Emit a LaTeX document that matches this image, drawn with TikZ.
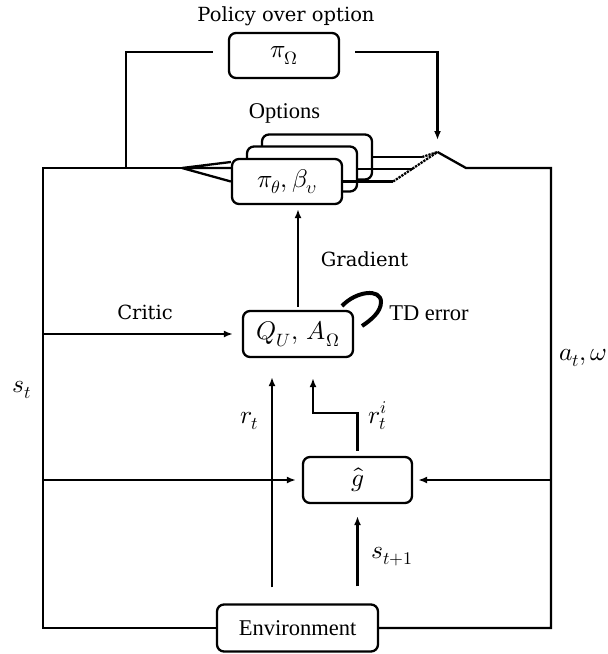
\documentclass[tikz,border=0pt]{standalone}
\usepackage{fontspec}
\usepackage{unicode-math}
\setmainfont{Liberation Serif}
\newfontfamily\cambria{DejaVu Serif}
\usetikzlibrary{arrows.meta,calc}
\begin{document}
\begin{tikzpicture}[x=1pt,y=-1pt,
  ln/.style={line width=2.3pt},
  arr/.style={ln,-{Latex[length=9pt,width=7pt]}},
  box/.style={draw,ln,rounded corners=7pt,fill=white,minimum width=110pt,minimum height=45pt,inner sep=0pt,font=\fontsize{25.5}{28}\selectfont},
  lbl/.style={font=\fontsize{22.5}{26}\selectfont,anchor=base,inner sep=0pt},
  clbl/.style={font=\cambria\fontsize{19.5}{24}\selectfont,anchor=base,inner sep=0pt},
  mlbl/.style={font=\fontsize{25.5}{28}\selectfont,inner sep=0pt}]
\useasboundingbox (0,0) rectangle (608,654);

% boxes
\node[box] (pol) at (284,55.5) {$\pi_\Omega$};
\node[box] (o3) at (317,157) {};
\node[box] (o2) at (302,169) {};
\node[box] (o1) at (287,181.5) {$\pi_\theta,\beta_\upsilon$};
\node[box,minimum height=46pt] (Q) at (298,334) {$Q_U,\,A_\Omega$};
\node[box,minimum width=109pt,minimum height=46pt] (g) at (357.5,480) {$\hat{g}$};
\node[box,minimum width=161pt,minimum height=47pt,font=\fontsize{22.5}{26}\selectfont] (env) at (297.5,628) {Environment};

% coordinates
\coordinate (tl) at (43,168);
\coordinate (tr) at (551,168);
\coordinate (bl) at (43,628);
\coordinate (br) at (551,628);
\coordinate (fan) at (182,168);
\coordinate (lj) at (126,168);
\coordinate (pivot) at (437.5,152);
\coordinate (sw) at (466,168);
\coordinate (rx) at (272,0);
\coordinate (ri) at (313,413);

% frame
\draw[ln] (fan) -- (tl) -- (bl) -- (env.west);
\draw[ln] (env.east) -- (br) -- (tr) -- (sw) -- (pivot);

% fan into options
\draw[ln] (fan) -- ($(o1.west)+(0,-19.5)$) (fan) -- ($(o1.west)+(0,-13.5)$) (fan) -- (o1.west);

% option outputs
\draw[ln] (o1.east) -- ++(50,0) coordinate (d1);
\draw[ln,densely dotted] (d1) -- (pivot);
\draw[ln] (o2.east) -- ++(55,0);
\draw[ln] (o3.east) -- ++(49,0) coordinate (d3);
\draw[ln,densely dotted] (d3) -- (pivot);

% policy over option lines
\draw[ln,shorten <=15pt] ([yshift=3.5pt]pol.west) -| (lj);
\draw[arr,shorten <=15pt,shorten >=12pt] ([yshift=3.5pt]pol.east) -| (pivot);

% gradient
\draw[arr,shorten <=3pt,shorten >=4pt] (Q.north) -- (Q.north |- o1.south);

% critic and inputs
\draw[arr,shorten >=9pt] (Q.west -| tl) -- (Q.west);
\draw[arr,shorten >=6pt] (g.west -| tl) -- (g.west);
\draw[arr,shorten >=5pt] (g.east -| tr) -- (g.east);
\draw[arr,shorten <=16pt,shorten >=19pt] (env.north -| rx) -- (Q.south -| rx);
\draw[arr,shorten <=17pt,shorten >=12pt] (env.north -| g.south) -- (g.south);
\draw[arr,shorten <=5pt,shorten >=20pt] (g.north) |- (ri) -- (Q.south -| ri);

% TD error hook
\draw[line width=4pt] (342,306) .. controls (356,291) and (381,288) .. (381,302) .. controls (381,312) and (371,320) .. (362,326);

% labels
\node[clbl] (lpol) at (286,21) {Policy over option};
\node[lbl] (lopt) at (284.5,118) {Options};
\node[clbl] (lgrad) at (364.5,266.5) {Gradient};
\node[lbl] (ltd) at (429,320) {TD error};
\node[clbl] (lcrit) at (145,319) {Critic};
\node[mlbl,anchor=base west] (lst) at (12,392) {$s_t$};
\node[mlbl,anchor=base west] (lat) at (559,360) {$a_t,\omega$};
\node[mlbl,anchor=base east] (lrt) at (259,423) {$r_t$};
\node[mlbl,anchor=base west] (lri) at (368,423) {$r_t^i$};
\node[mlbl,anchor=base west] (ls1) at (371,558) {$s_{t+1}$};
\end{tikzpicture}
\end{document}
